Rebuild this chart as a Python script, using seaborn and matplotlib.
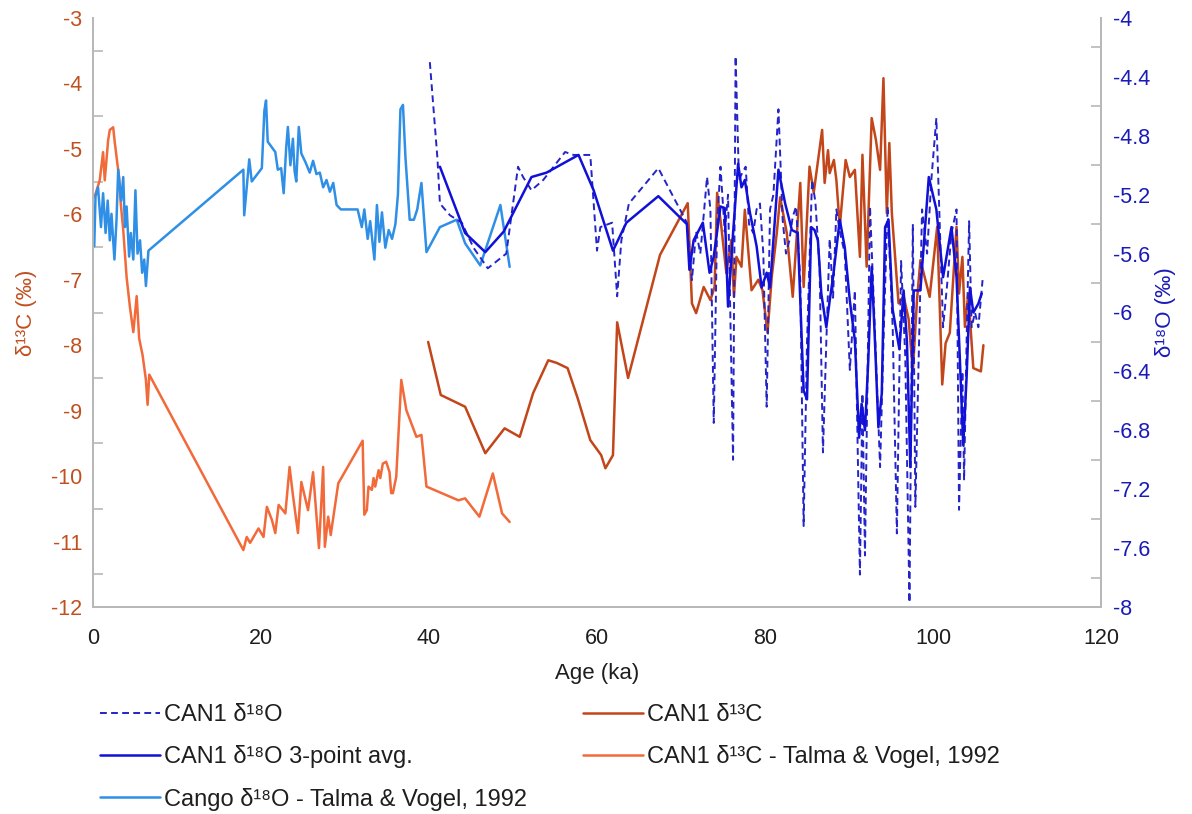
import numpy as np
import pandas as pd
import matplotlib
matplotlib.use("Agg")
import matplotlib.pyplot as plt
import seaborn as sns
from matplotlib.ticker import FixedLocator, FuncFormatter
from matplotlib.lines import Line2D

sns.set_theme(style="white")
plt.rcParams['font.family'] = ['Liberation Sans', 'DejaVu Sans']
plt.rcParams['axes.unicode_minus'] = False

# ---------------- data ----------------
# CAN1 d18O (right axis)
can1_o_age = [40.1, 41.0, 41.3, 42.5, 43.9, 45.3, 47.0, 49.2, 50.6, 51.2, 52.2, 53.6, 56.2, 57.2, 59.2,
              60.0, 60.4, 61.8, 62.4, 62.9, 63.8, 67.3, 70.7, 71.3, 71.8, 72.3, 73.1, 73.5, 73.9, 74.3,
              74.7, 75.2, 75.6, 76.2, 76.5, 76.9, 77.3, 77.7, 78.1, 78.6, 79.0, 79.4, 79.8, 80.2, 80.6,
              81.0, 81.6, 82.1, 82.5, 82.9, 83.3, 83.7, 84.2, 84.6, 85.0, 85.6, 86.0, 86.5, 86.9, 87.3,
              87.7, 88.1, 88.5, 88.9, 89.5, 90.1, 90.7, 91.3, 91.6, 91.9, 92.5, 93.0, 93.7, 94.2, 94.6,
              95.2, 95.7, 96.2, 96.7, 97.2, 97.6, 97.9, 98.3, 98.7, 99.3, 99.8, 100.4, 100.8, 101.2, 101.7,
              102.2, 102.8, 103.1, 103.5, 103.7, 104.0, 104.3, 104.6, 105.0, 105.4, 105.9]
can1_o_val = [-4.30, -4.95, -5.26, -5.34, -5.39, -5.56, -5.70, -5.60, -5.01, -5.08, -5.17, -5.10, -4.91, -4.93, -4.93,
              -5.58, -5.42, -5.39, -5.89, -5.51, -5.26, -5.02, -5.39, -5.78, -5.45, -5.60, -5.08, -5.30, -6.75, -5.40,
              -5.01, -5.45, -5.20, -7.00, -4.26, -5.10, -5.05, -5.01, -5.40, -5.46, -5.30, -5.26, -5.60, -6.64, -5.30,
              -5.20, -4.62, -5.37, -5.60, -5.51, -5.35, -5.28, -5.78, -7.45, -6.20, -5.10, -5.25, -5.70, -6.95, -6.20,
              -5.50, -5.90, -5.30, -5.45, -5.60, -6.39, -5.85, -7.78, -6.55, -7.65, -5.28, -6.00, -7.05, -6.00, -5.28,
              -6.10, -7.50, -5.65, -6.30, -7.97, -5.40, -7.32, -6.30, -5.30, -5.60, -5.10, -4.68, -5.40, -6.10, -5.80,
              -5.46, -5.30, -7.34, -6.40, -7.14, -6.20, -5.38, -6.10, -6.00, -6.10, -5.78]

# CAN1 d18O 3-point average (right axis)
avg_age = [41.3, 44.3, 46.7, 48.9, 52.2, 54.0, 57.8, 59.6, 61.9, 63.5, 67.3, 70.7, 71.0, 71.5, 72.6, 73.4,
           73.9, 74.7, 75.2, 75.6, 76.2, 76.8, 77.2, 77.6, 78.2, 79.0, 79.6, 80.2, 80.6, 81.6, 82.4, 83.2,
           83.9, 84.6, 85.0, 85.5, 85.9, 86.3, 86.7, 87.3, 87.7, 88.1, 88.9, 89.5, 90.1, 90.7, 91.2, 91.5,
           91.9, 92.3, 92.7, 93.1, 93.5, 93.9, 94.3, 94.7, 95.2, 96.0, 96.5, 96.9, 97.3, 97.7, 98.5, 99.5,
           100.4, 101.2, 102.2, 102.8, 103.2, 103.6, 104.0, 104.4, 104.8, 105.4, 105.8]
avg_val = [-5.01, -5.46, -5.59, -5.45, -5.08, -5.05, -4.93, -5.17, -5.58, -5.39, -5.21, -5.40, -5.71, -5.51, -5.39, -5.73,
           -5.62, -5.28, -5.29, -5.96, -5.46, -4.99, -5.15, -5.10, -5.32, -5.55, -5.83, -5.73, -5.83, -5.03, -5.26, -5.44,
           -5.46, -6.53, -6.59, -5.42, -5.44, -5.51, -5.87, -6.10, -5.92, -5.76, -5.37, -5.56, -5.92, -6.19, -6.85, -6.62,
           -6.80, -6.32, -5.69, -6.21, -6.78, -6.55, -5.42, -5.37, -5.98, -6.25, -5.85, -6.20, -7.05, -5.85, -5.85, -5.08,
           -5.30, -5.76, -5.42, -5.76, -6.32, -6.90, -6.44, -5.83, -6.00, -5.94, -5.87]

# Cango d18O - Talma & Vogel 1992 (right axis)
cango_age = [0.15, 0.3, 0.6, 0.95, 1.2, 1.5, 1.75, 2.0, 2.2, 2.55, 2.8, 3.0, 3.35, 3.6, 3.8, 4.0, 4.3, 4.5,
             4.8, 5.05, 5.3, 5.6, 5.85, 6.1, 6.3, 6.6, 17.9, 18.0, 18.6, 18.9, 20.1, 20.4, 20.6, 20.8, 21.7,
             22.0, 22.4, 22.7, 23.0, 23.2, 23.5, 23.8, 24.0, 24.2, 24.5, 24.8, 25.3, 25.8, 26.2, 26.6, 27.0,
             27.4, 27.8, 28.2, 28.6, 29.0, 29.5, 30.5, 31.5, 32.0, 32.3, 32.7, 33.0, 33.5, 33.8, 34.1, 34.4,
             34.8, 35.2, 35.6, 36.0, 36.3, 36.6, 36.9, 37.2, 37.7, 38.2, 38.6, 39.1, 39.7, 41.3, 43.3, 44.3,
             46.1, 48.5, 49.6]
cango_val = [-5.55, -5.21, -5.15, -5.42, -5.19, -5.46, -5.24, -5.51, -5.33, -5.64, -5.37, -5.03, -5.24, -5.08,
             -5.42, -5.28, -5.62, -5.46, -5.64, -5.17, -5.60, -5.51, -5.73, -5.64, -5.82, -5.58, -5.03, -5.34,
             -4.96, -5.11, -5.02, -4.63, -4.56, -4.84, -4.91, -5.03, -5.02, -5.19, -4.88, -4.74, -5.00, -4.82,
             -5.04, -5.11, -4.74, -4.92, -4.98, -5.05, -4.97, -5.06, -5.05, -5.15, -5.10, -5.18, -5.12, -5.27,
             -5.30, -5.30, -5.30, -5.42, -5.30, -5.50, -5.38, -5.64, -5.27, -5.52, -5.32, -5.56, -5.44, -5.50,
             -5.40, -5.20, -4.62, -4.59, -4.95, -5.37, -5.37, -5.30, -5.12, -5.59, -5.42, -5.37, -5.53, -5.68,
             -5.27, -5.69]

# CAN1 d13C (left axis)
can1_c_age = [39.9, 41.4, 44.3, 46.7, 49.0, 50.8, 52.4, 54.2, 55.2, 56.5, 57.7, 59.2, 60.5, 61.0, 61.9, 62.4,
              63.7, 67.5, 70.8, 71.3, 71.8, 72.7, 73.5, 74.0, 74.3, 74.8, 75.4, 76.0, 76.3, 76.6, 77.2, 77.6,
              78.4, 79.2, 79.7, 80.3, 80.8, 81.4, 81.8, 82.6, 83.3, 84.2, 84.6, 85.3, 85.8, 86.8, 87.1, 87.5,
              87.7, 88.2, 88.5, 88.9, 89.6, 90.1, 90.7, 91.3, 91.6, 92.1, 92.7, 93.2, 93.7, 94.1, 94.5, 94.8,
              95.1, 95.9, 96.5, 97.1, 97.6, 98.1, 98.5, 99.6, 100.5, 101.1, 101.5, 102.0, 102.8, 103.1, 103.5,
              103.8, 104.2, 104.8, 105.7, 106.0]
can1_c_val = [-7.95, -8.76, -8.94, -9.65, -9.27, -9.40, -8.73, -8.23, -8.27, -8.35, -8.81, -9.45, -9.68, -9.88,
              -9.68, -7.65, -8.50, -6.62, -5.83, -7.36, -7.51, -7.11, -7.31, -7.11, -5.67, -6.19, -6.90, -6.39,
              -7.26, -6.65, -6.80, -5.93, -7.16, -7.00, -7.16, -7.81, -6.96, -6.29, -5.74, -6.29, -7.26, -5.52,
              -7.11, -5.27, -5.67, -4.71, -5.52, -5.02, -5.37, -5.17, -5.48, -6.19, -5.17, -5.43, -5.32, -6.65,
              -5.09, -6.80, -4.53, -4.86, -5.32, -3.92, -5.98, -4.91, -5.98, -7.36, -7.25, -7.60, -8.40, -7.30,
              -6.70, -7.26, -6.19, -8.60, -7.97, -7.81, -6.19, -7.21, -6.65, -7.72, -7.21, -8.35, -8.40, -8.00]

# CAN1 d13C - Talma & Vogel 1992 (left axis)
talma_c_age = [0.2, 0.8, 1.2, 1.4, 1.8, 2.0, 2.4, 2.6, 2.85, 3.1, 3.3, 3.6, 4.0, 4.4, 4.8, 5.2, 5.5, 5.9,
               6.3, 6.5, 6.7, 17.9, 18.3, 18.7, 19.7, 20.3, 20.7, 21.3, 21.7, 22.1, 22.9, 23.4, 23.8, 24.4,
               24.8, 25.6, 26.2, 26.9, 27.4, 27.6, 28.0, 28.3, 29.2, 32.1, 32.3, 32.6, 32.8, 33.2, 33.4, 33.6,
               34.0, 34.2, 34.5, 34.9, 35.3, 35.5, 35.7, 36.1, 36.7, 37.3, 38.5, 39.1, 39.7, 43.5, 44.3, 46.0,
               47.6, 48.7, 49.6]
talma_c_val = [-5.73, -5.48, -5.05, -5.48, -4.87, -4.71, -4.67, -4.91, -5.17, -5.43, -5.83, -6.24, -6.96,
               -7.42, -7.80, -7.25, -7.90, -8.15, -8.53, -8.91, -8.45, -11.13, -10.93, -11.02, -10.80, -10.93,
               -10.47, -10.67, -10.87, -10.44, -10.57, -9.86, -10.29, -10.87, -10.09, -10.52, -9.94, -11.10,
               -9.86, -11.08, -10.62, -10.90, -10.11, -9.46, -10.59, -10.52, -10.16, -10.21, -10.03, -10.16,
               -9.91, -10.03, -9.81, -9.78, -9.94, -10.26, -10.26, -10.01, -8.53, -8.99, -9.40, -9.37, -10.16,
               -10.37, -10.34, -10.62, -9.96, -10.57, -10.70]

left_ticks = [-3, -4, -5, -6, -7, -8, -9, -10, -11, -12]
right_ticks = [-4, -4.4, -4.8, -5.2, -5.6, -6, -6.4, -6.8, -7.2, -7.6, -8]
x_ticks = [0, 20, 40, 60, 80, 100, 120]

labels = {
    "o": "CAN1 δ¹⁸O",
    "avg": "CAN1 δ¹⁸O 3-point avg.",
    "cango": "Cango δ¹⁸O - Talma & Vogel, 1992",
    "c": "CAN1 δ¹³C",
    "talma": "CAN1 δ¹³C - Talma & Vogel, 1992",
}
colors = {
    "o": "#2424C8",
    "avg": "#1010D8",
    "cango": "#2F8FE6",
    "c": "#C2461A",
    "talma": "#F2693A",
}
left_color = "#C0501F"
right_color = "#1A1AB8"
text_color = "#1E1E1E"
gray = "#B8B8B8"

# ---------------- figure ----------------
W, H = 1192, 814
fig = plt.figure(figsize=(W / 100, H / 100), dpi=100)
ax = fig.add_axes([93 / W, 1 - 607 / H, (1101 - 93) / W, (607 - 18) / H])
ax2 = ax.twinx()

lw = 1.8
dash = (0, (3.5, 2.2))
sns.lineplot(x=talma_c_age, y=talma_c_val, ax=ax, color=colors["talma"], lw=lw,
             estimator=None, sort=False)
sns.lineplot(x=can1_c_age, y=can1_c_val, ax=ax, color=colors["c"], lw=lw,
             estimator=None, sort=False)
sns.lineplot(x=cango_age, y=cango_val, ax=ax2, color=colors["cango"], lw=lw,
             estimator=None, sort=False)
sns.lineplot(x=can1_o_age, y=can1_o_val, ax=ax2, color=colors["o"], lw=1.4,
             estimator=None, sort=False)
ax2.lines[-1].set_linestyle(dash)
sns.lineplot(x=avg_age, y=avg_val, ax=ax2, color=colors["avg"], lw=lw,
             estimator=None, sort=False)

ax.set_xlim(0, 120)
ax.set_ylim(-12, -3)
ax2.set_ylim(-8, -4)

fs = 15.5
ax.xaxis.set_major_locator(FixedLocator(x_ticks))
ax.yaxis.set_major_locator(FixedLocator(left_ticks))
ax.yaxis.set_minor_locator(FixedLocator([t - 0.5 for t in left_ticks[:-1]]))
ax2.yaxis.set_major_locator(FixedLocator(right_ticks))
ax2.yaxis.set_minor_locator(FixedLocator([t - 0.2 for t in right_ticks[:-1]]))
fmt = FuncFormatter(lambda v, p: ("%g" % round(v, 2)))
ax.yaxis.set_major_formatter(fmt)
ax2.yaxis.set_major_formatter(fmt)

ax.tick_params(axis="x", which="major", direction="out", length=7, width=1.2, color=gray,
               labelsize=fs, labelcolor=text_color, pad=8)
ax.tick_params(axis="y", which="major", length=0, labelsize=fs, labelcolor=left_color, pad=8)
ax.tick_params(axis="y", which="minor", direction="in", length=7, width=1.2, color=gray)
ax2.tick_params(axis="y", which="major", length=0, labelsize=fs, labelcolor=right_color, pad=9)
ax2.tick_params(axis="y", which="minor", direction="in", length=7, width=1.2, color=gray)

for a in (ax, ax2):
    a.spines["top"].set_visible(False)
    for s in ("left", "right", "bottom"):
        a.spines[s].set_color(gray)
        a.spines[s].set_linewidth(1.3)
    a.grid(False)

ax.set_xlabel("Age (ka)", fontsize=16, color=text_color, labelpad=10)
ax.set_ylabel("δ¹³C (‰)", fontsize=16, color=left_color, labelpad=10)
ax2.set_ylabel("δ¹⁸O (‰)", fontsize=16, color=right_color, labelpad=3)

h = {
    "o": Line2D([], [], color=colors["o"], lw=1.4, ls=dash),
    "avg": Line2D([], [], color=colors["avg"], lw=lw),
    "cango": Line2D([], [], color=colors["cango"], lw=lw),
    "c": Line2D([], [], color=colors["c"], lw=lw),
    "talma": Line2D([], [], color=colors["talma"], lw=lw),
}
leg_kw = dict(loc="upper left", frameon=False, fontsize=17, handlelength=2.55, handletextpad=0.15,
              labelspacing=0.82, borderaxespad=0, borderpad=0, labelcolor=text_color)
leg1 = fig.legend([h[k] for k in ("o", "avg", "cango")], [labels[k] for k in ("o", "avg", "cango")],
                  bbox_to_anchor=(100 / W, 1 - 704 / H), **leg_kw)
leg2 = fig.legend([h[k] for k in ("c", "talma")], [labels[k] for k in ("c", "talma")],
                  bbox_to_anchor=(583 / W, 1 - 704 / H), **leg_kw)

fig.savefig("out.png", dpi=100)
